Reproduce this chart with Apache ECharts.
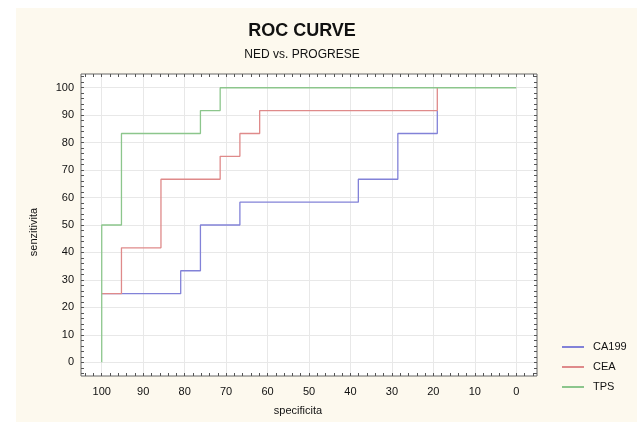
<!DOCTYPE html>
<html>
<head>
<meta charset="utf-8">
<script src="https://cdn.jsdelivr.net/npm/echarts@6/dist/echarts.min.js"></script>
<style>html,body{margin:0;padding:0;background:#fff;}#c{width:637px;height:422px;}</style>
</head>
<body>
<div id="c"></div>
<script>
const seriesNames = ['CA199', 'CEA', 'TPS'];
const specCA199 = [100, 80.95, 80.95, 76.19, 76.19, 66.67, 66.67, 38.1, 38.1, 28.57, 28.57, 19.05, 19.05];
const sensCA199 = [25, 25, 33.33, 33.33, 50, 50, 58.33, 58.33, 66.67, 66.67, 83.33, 83.33, 91.67];
const specCEA = [100, 95.24, 95.24, 85.71, 85.71, 71.43, 71.43, 66.67, 66.67, 61.9, 61.9, 19.05, 19.05];
const sensCEA = [25, 25, 41.67, 41.67, 66.67, 66.67, 75, 75, 83.33, 83.33, 91.67, 91.67, 100];
const specTPS = [100, 100, 95.24, 95.24, 76.19, 76.19, 71.43, 71.43, 0];
const sensTPS = [0, 50, 50, 83.33, 83.33, 91.67, 91.67, 100, 100];
const majorTicks = [0, 10, 20, 30, 40, 50, 60, 70, 80, 90, 100];
const minorTicks = [-4, -2, 0, 2, 4, 6, 8, 10, 12, 14, 16, 18, 20, 22, 24, 26, 28, 30, 32, 34, 36, 38, 40, 42, 44, 46, 48, 50, 52, 54, 56, 58, 60, 62, 64, 66, 68, 70, 72, 74, 76, 78, 80, 82, 84, 86, 88, 90, 92, 94, 96, 98, 100, 102, 104];

const zip = (a, b) => a.map((v, i) => [v, b[i]]);
const FONT = 'Liberation Sans, Arial, sans-serif';
const colors = ['#8282d8', '#df8a8a', '#8cc68c'];

function tickAxis(pos, isX) {
  return {
    type: 'value', min: -5, max: 105, position: pos, inverse: isX,
    axisLine: {show: false, onZero: false},
    axisLabel: {show: false},
    splitLine: {show: false},
    axisTick: {show: true, inside: true, length: 3, customValues: minorTicks, lineStyle: {color: '#555', width: 1}}
  };
}

const chart = echarts.init(document.getElementById('c'));
chart.setOption({
  animation: false,
  backgroundColor: '#ffffff',
  textStyle: {fontFamily: FONT},
  graphic: [
    {type: 'rect', z: -100, silent: true, shape: {x: 16, y: 8, width: 621, height: 414}, style: {fill: '#fdf9ee'}},
    {type: 'text', x: 298, y: 411, silent: true, style: {text: 'specificita', font: '11px ' + FONT, fill: '#111', align: 'center', verticalAlign: 'middle'}},
    {type: 'text', x: 34, y: 232, rotation: Math.PI / 2, silent: true, style: {text: 'senzitivita', font: '11px ' + FONT, fill: '#111', align: 'center', verticalAlign: 'middle'}}
  ],
  title: [
    {text: 'ROC CURVE', left: 297, top: 17, textAlign: 'center', textStyle: {fontFamily: FONT, fontSize: 18, fontWeight: 'bold', color: '#111'}},
    {text: 'NED vs. PROGRESE', left: 297, top: 44, textAlign: 'center', textStyle: {fontFamily: FONT, fontSize: 12, fontWeight: 'normal', color: '#111'}}
  ],
  legend: {
    orient: 'vertical', left: 557, top: 336, itemWidth: 22, itemHeight: 2, itemGap: 8,
    icon: 'rect',
    data: seriesNames,
    textStyle: {fontFamily: FONT, fontSize: 11, color: '#111', lineHeight: 12, padding: [0, 0, 0, 4]}
  },
  grid: {left: 81, top: 74, right: 100, bottom: 46, show: true, backgroundColor: '#ffffff', borderColor: '#666', borderWidth: 1, containLabel: false},
  xAxis: [
    {
      type: 'value', min: -5, max: 105, position: 'bottom', inverse: true,
      axisLine: {show: false, onZero: false},
      axisTick: {show: false, customValues: majorTicks},
      axisLabel: {customValues: majorTicks, margin: 10, fontSize: 11, color: '#111', fontFamily: FONT},
      splitLine: {show: true, lineStyle: {color: '#e8e8e8', width: 1}}
    },
    tickAxis('bottom', true),
    tickAxis('top', true)
  ],
  yAxis: [
    {
      type: 'value', min: -5, max: 105, position: 'left',
      axisLine: {show: false, onZero: false},
      axisTick: {show: false, customValues: majorTicks},
      axisLabel: {customValues: majorTicks, margin: 7, fontSize: 11, color: '#111', fontFamily: FONT},
      splitLine: {show: true, lineStyle: {color: '#e8e8e8', width: 1}}
    },
    tickAxis('left', false),
    tickAxis('right', false)
  ],
  series: [
    {name: seriesNames[0], type: 'line', xAxisIndex: 0, yAxisIndex: 0, symbol: 'none', color: colors[0], lineStyle: {width: 1.3}, data: zip(specCA199, sensCA199)},
    {name: seriesNames[1], type: 'line', xAxisIndex: 0, yAxisIndex: 0, symbol: 'none', color: colors[1], lineStyle: {width: 1.3}, data: zip(specCEA, sensCEA)},
    {name: seriesNames[2], type: 'line', xAxisIndex: 0, yAxisIndex: 0, symbol: 'none', color: colors[2], lineStyle: {width: 1.3}, data: zip(specTPS, sensTPS)}
  ]
});
</script>
</body>
</html>
